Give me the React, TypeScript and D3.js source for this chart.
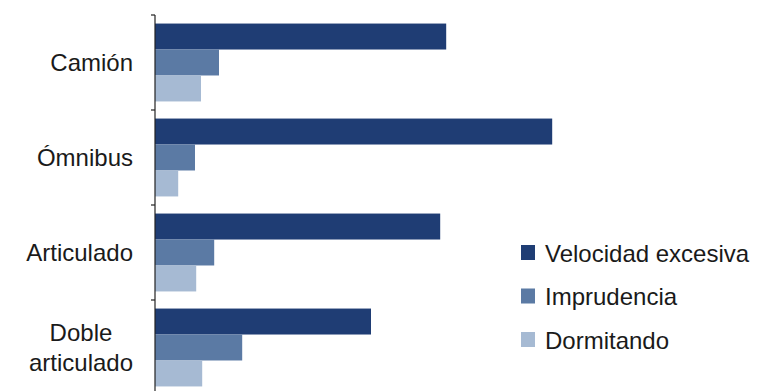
import React from "react";
import * as d3 from "d3";

const categories = ["Camión", "Ómnibus", "Articulado", "Doble articulado"];
const categoryLines = [["Camión"], ["Ómnibus"], ["Articulado"], ["Doble", "articulado"]];
const series = ["Velocidad excesiva", "Imprudencia", "Dormitando"];
const velocidad = [72.8, 99.3, 71.3, 54.0];
const imprudencia = [16.0, 10.0, 14.8, 21.8];
const dormitando = [11.5, 5.8, 10.3, 11.8];
const seriesValues = [velocidad, imprudencia, dormitando];
const colors = ["#1f3d74", "#5b7aa4", "#a6bad3"];

const W = 760;
const H = 391;
const FONT = "'Liberation Sans', Arial, sans-serif";

function measure(text: string, size: number): number {
  if (typeof document === "undefined") return text.length * size * 0.5;
  const c = document.createElement("canvas").getContext("2d");
  if (!c) return text.length * size * 0.5;
  c.font = `${size}px ${FONT}`;
  return c.measureText(text).width;
}

export default function App() {
  const axisX = 155;
  const y = d3.scaleBand<string>().domain(categories).range([15, 395]).paddingInner(0.18).paddingOuter(0.09);
  const yInner = d3.scaleBand<string>().domain(series).range([0, y.bandwidth()]);
  const x = d3.scaleLinear().domain([0, 100]).range([axisX, axisX + 400]);
  const step = y.step();
  const boundaries = d3.range(categories.length + 1).map((i) => 15 + i * step);
  const fs = 24;
  const labelRight = 133;

  return (
    <svg width={W} height={H} style={{ position: "absolute", left: 0, top: 0, background: "#fff" }}>
      <rect width={W} height={H} fill="#fff" />
      {categories.map((c, ci) => (
        <g key={c}>
          {series.map((s, si) => (
            <rect
              key={s}
              x={x(0)}
              y={(y(c) as number) + (yInner(s) as number)}
              width={x(seriesValues[si][ci]) - x(0)}
              height={yInner.bandwidth()}
              fill={colors[si]}
            />
          ))}
        </g>
      ))}
      <line x1={axisX} x2={axisX} y1={15} y2={H} stroke="#222" strokeWidth={1.2} />
      {boundaries.map((b, i) => (
        <line key={i} x1={axisX - 4} x2={axisX} y1={b} y2={b} stroke="#222" strokeWidth={1.2} />
      ))}
      {categories.map((c, ci) => {
        const lines = categoryLines[ci];
        const center = (y(c) as number) + y.bandwidth() / 2;
        const lh = 30;
        const maxW = Math.max(...lines.map((l) => measure(l, fs)));
        const multi = lines.length > 1;
        return (
          <text
            key={c}
            fontFamily={FONT}
            fontSize={fs}
            fill="#1a1a1a"
            textAnchor={multi ? "middle" : "end"}
          >
            {lines.map((l, li) => (
              <tspan
                key={li}
                x={multi ? labelRight - maxW / 2 : labelRight}
                y={center + (li - (lines.length - 1) / 2) * lh + fs * 0.35}
              >
                {l}
              </tspan>
            ))}
          </text>
        );
      })}
      {series.map((s, si) => (
        <g key={s} transform={`translate(521, ${245 + si * 43.5})`}>
          <rect x={0} y={0} width={14} height={15} fill={colors[si]} />
          <text x={24} y={16.5} fontFamily={FONT} fontSize={fs} fill="#1a1a1a">
            {s}
          </text>
        </g>
      ))}
    </svg>
  );
}
